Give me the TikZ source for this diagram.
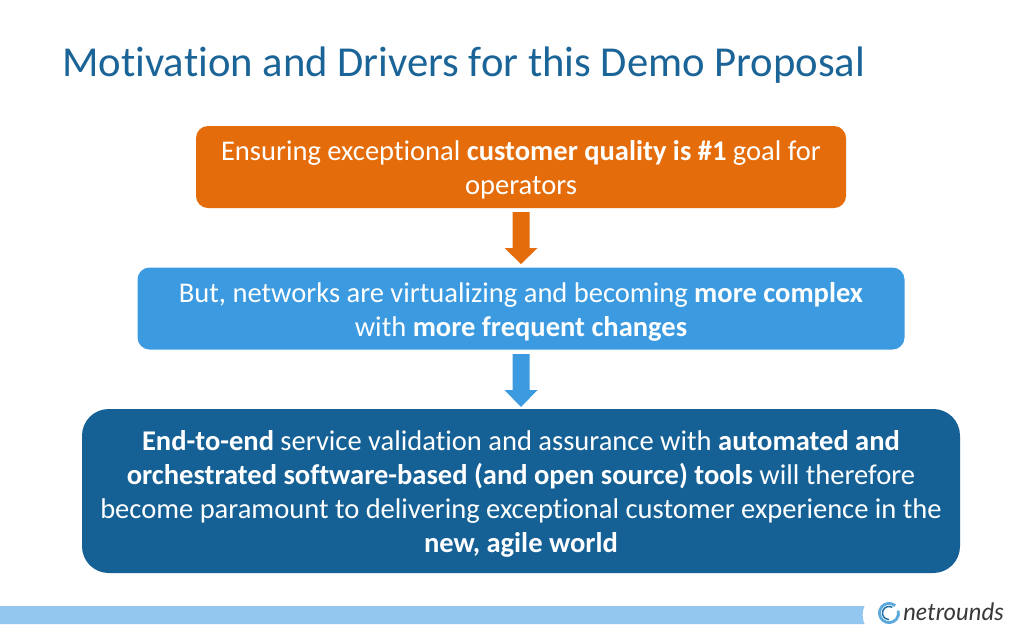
\documentclass[tikz,border=0pt]{standalone}
\usepackage{fontspec}
\setmainfont{Carlito}[Ligatures=NoCommon]
\newfontfamily\logofont{Lato}[ItalicFont=* Italic]
\definecolor{ttl}{HTML}{1B6497}
\definecolor{orng}{HTML}{E46C0A}
\definecolor{lblue}{HTML}{3C9BE0}
\definecolor{dblue}{HTML}{156196}
\definecolor{bar}{HTML}{93C7EF}
\definecolor{logoa}{HTML}{5BA8DC}
\definecolor{logob}{HTML}{1F6EA8}
\tikzset{x=0.75pt,y=-0.75pt,
 boxs/.style={rounded corners=9pt,anchor=center,align=center,text=white,inner sep=0pt,font=\fontsize{21.4pt}{25.5pt}\selectfont},
 arrowshape/.style={draw=none}}
\begin{document}
\begin{tikzpicture}
\useasboundingbox (0,0) rectangle (1024,640);
\fill[white] (0,0) rectangle (1024,640);
\node[anchor=west,text=ttl,inner sep=0pt,font=\fontsize{32pt}{36pt}\selectfont] (title) at (62,65) {Motivation and Drivers for this Demo Proposal};
\node[boxs,fill=orng,minimum width=487.5pt,minimum height=61.5pt] (a) at (521,167) {\parbox{480pt}{\vspace*{4.5pt}\centering Ensuring exceptional \textbf{customer quality is \#1} goal for\\operators}};
\node[boxs,fill=lblue,minimum width=575.25pt,minimum height=61.5pt] (b) at (521,308.5) {\parbox{570pt}{\vspace*{4.5pt}\centering But, networks are virtualizing and becoming \textbf{more complex}\\with \textbf{more frequent changes}}};
\node[boxs,fill=dblue,rounded corners=20pt,minimum width=658.5pt,minimum height=123pt] (c) at (521,491) {\parbox{652pt}{\vspace*{4.5pt}\centering\textbf{End-to-end} service validation and assurance with \textbf{automated and}\\\textbf{orchestrated software-based (and open source) tools} will therefore\\become paramount to delivering exceptional customer experience in the\\\textbf{new, agile world}}};
\fill[orng,arrowshape] (512.5,212) -- (529.5,212) -- (529.5,248) -- (537.5,248) -- (521,264) -- (504.5,248) -- (512.5,248) -- cycle;
\fill[lblue,arrowshape] (512.5,354) -- (529.5,354) -- (529.5,390) -- (537.5,390) -- (521,407) -- (504.5,390) -- (512.5,390) -- cycle;
\fill[bar] (0,606) -- (864.5,606) .. controls (862,611) and (862,619) .. (864.5,624) -- (0,624) -- cycle;
\node[anchor=west,inner sep=0pt,text=black!78,font=\logofont\itshape\fontsize{18pt}{20pt}\selectfont] (logo) at (903,612) {netrounds};
\coordinate (lc) at (889,613);
\draw[logoa,line width=2.1pt] (lc) ++(50:7.2pt) arc[start angle=50,end angle=375,radius=7.2pt];
\draw[logob,line width=1.1pt] (lc) ++(60:4.9pt) arc[start angle=60,end angle=270,radius=4.9pt];
\end{tikzpicture}
\end{document}
